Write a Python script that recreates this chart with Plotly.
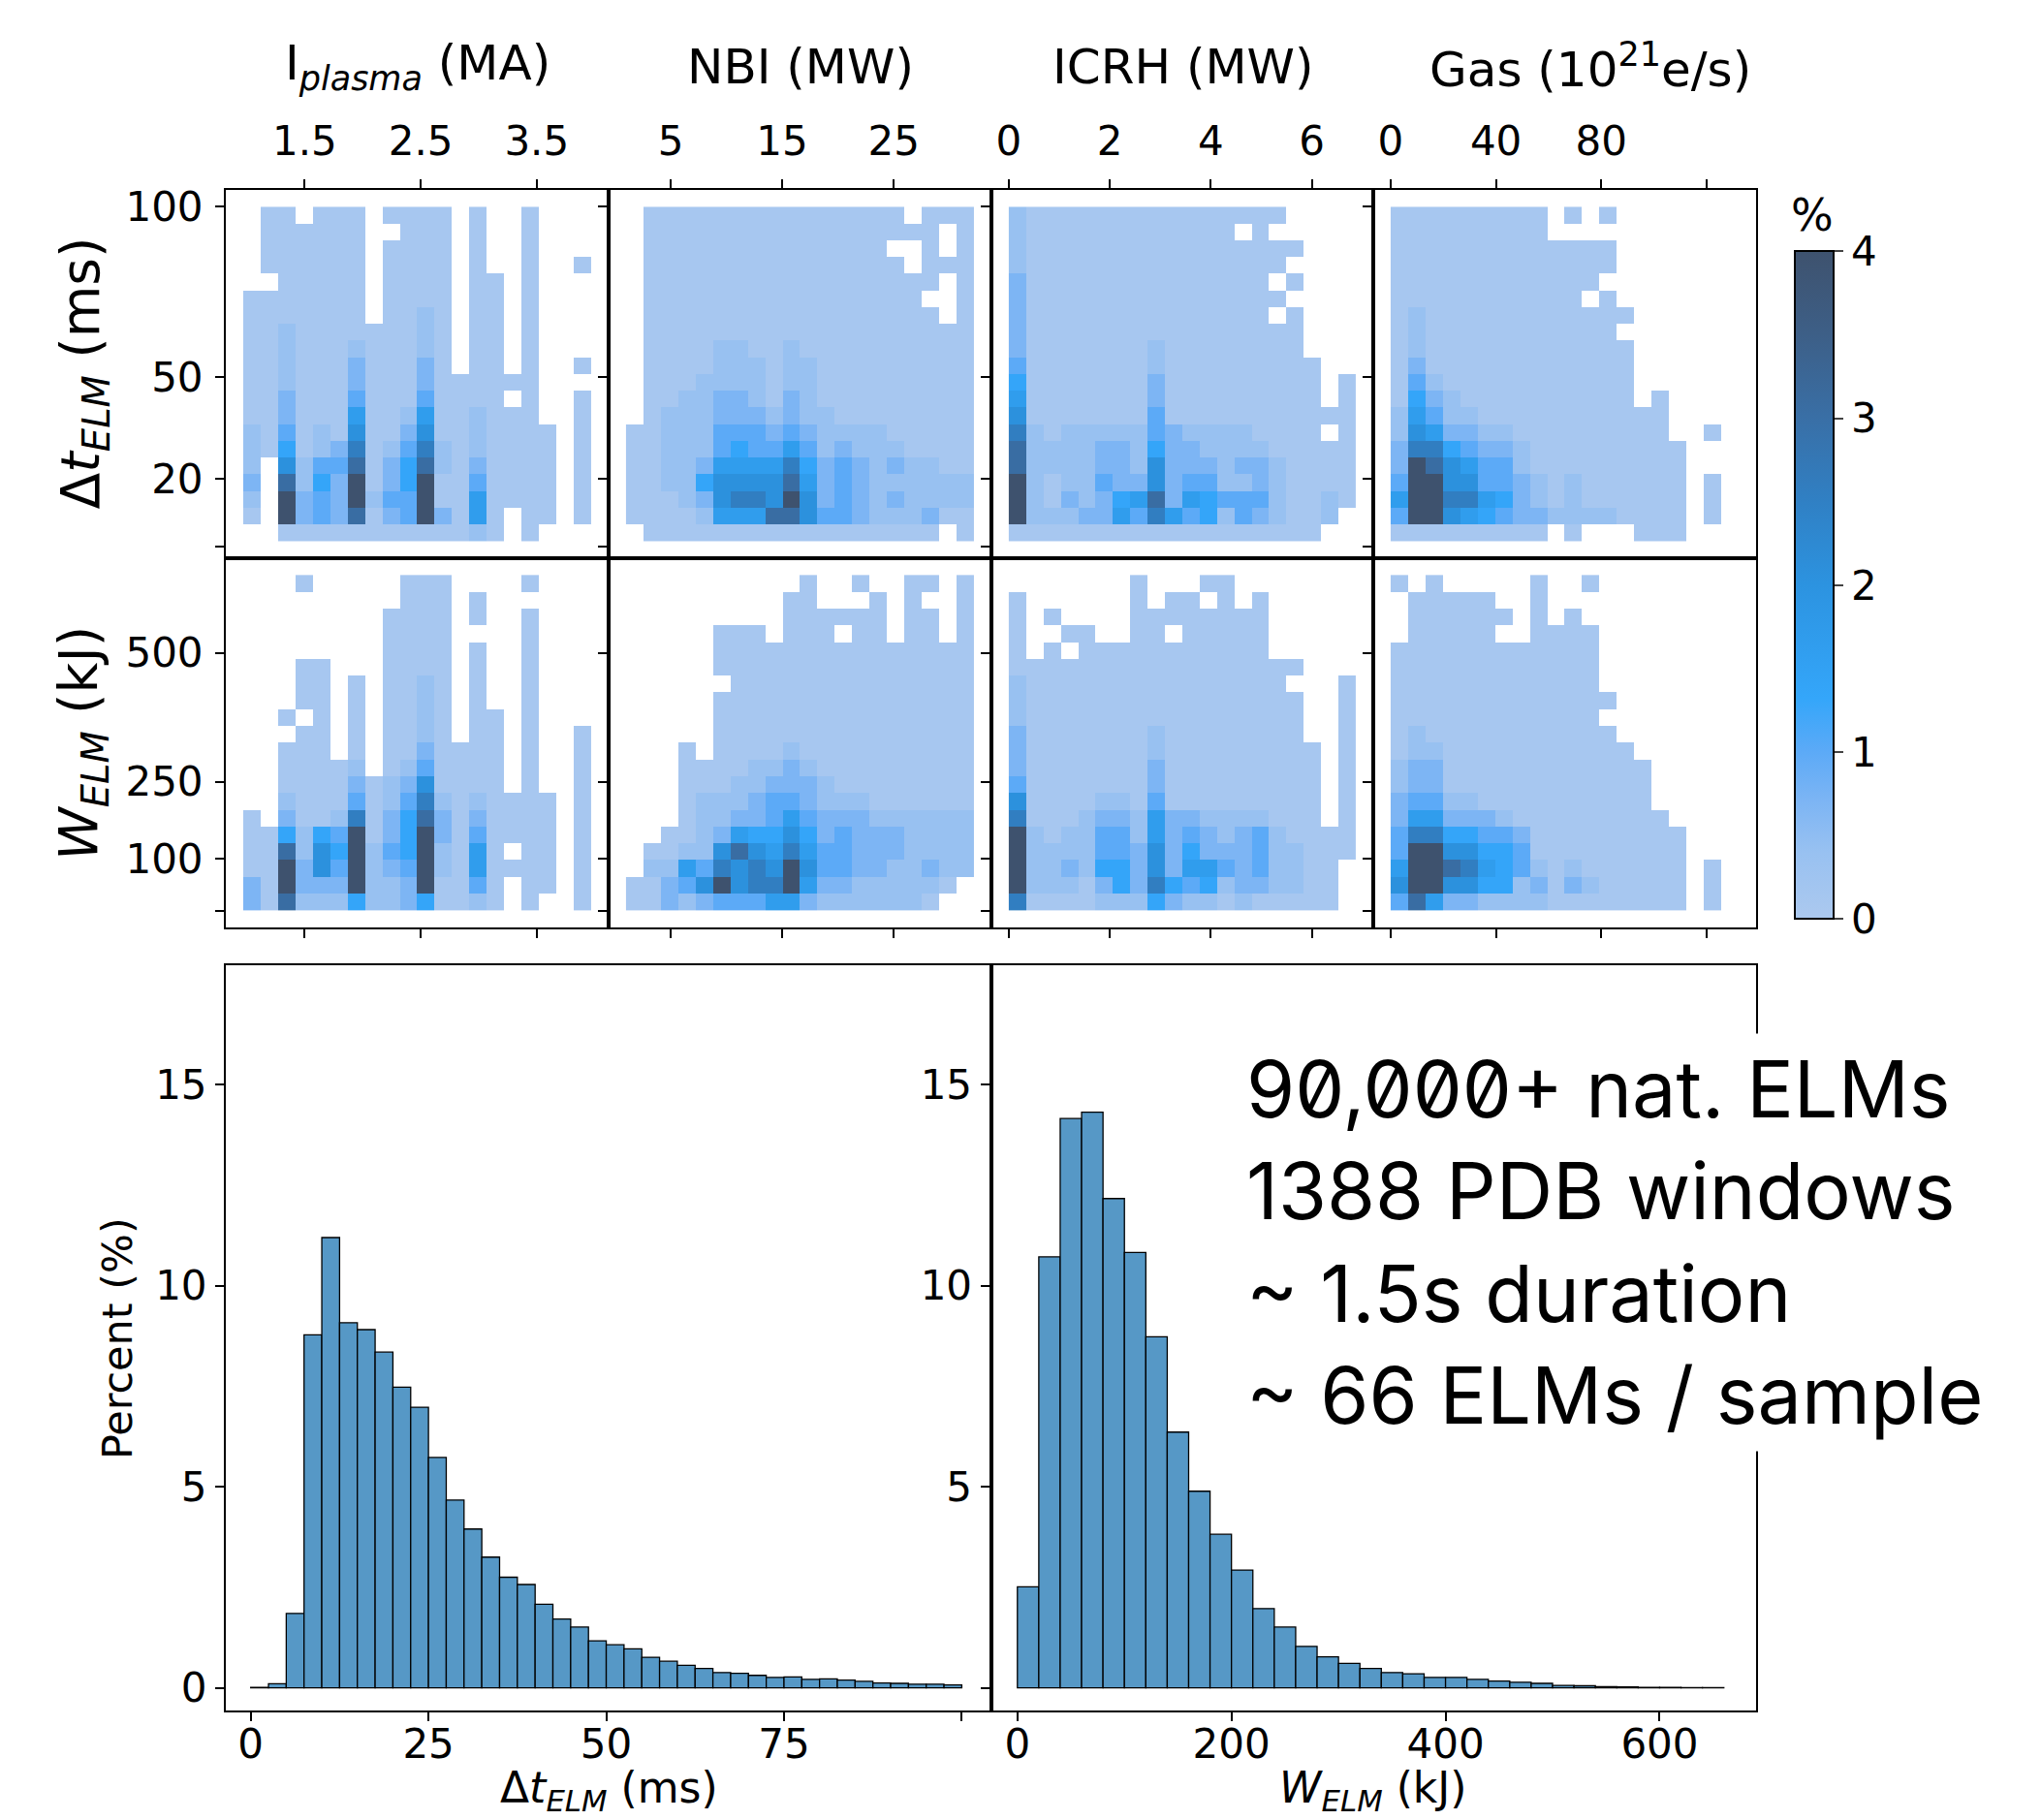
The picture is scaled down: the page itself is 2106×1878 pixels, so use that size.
import plotly.graph_objects as go

W_PX, H_PX = 2106, 1878
FONT = "DejaVu Sans"

# ---------------- data: bin ranges (data units) ----------------
IP_BINS = (0.97, 3.97)      # I_plasma (MA)
NBI_BINS = (1.0, 32.2)      # NBI (MW)
ICRH_BINS = (0.0, 6.87)     # ICRH (MW)
GAS_BINS = (0.0, 132.2)     # Gas (1e21 e/s)
DT_BINS = (1.6, 100.0)      # dt_ELM (ms)
WE_BINS = (0.0, 651.0)      # W_ELM (kJ)
N_BINS = 20

# cell level code -> percent value ('.' = empty)
LEVELS = {'0': 0.1, '1': 0.4, '2': 0.7, '3': 1.0, '4': 1.35,
          '5': 1.65, '6': 2.05, '7': 2.55, '8': 3.05, '9': 4.0}

# rows listed from top (largest y) to bottom
GRID_IP_DT = [
    ".00.000.0000.0..0...",
    ".000000..000.0..0...",
    ".000000.0000.0..0...",
    ".000000.0000.0..0..0",
    "..00000.0000.00.0...",
    "0000000.0000.00.0...",
    "0000000.0010.00.0...",
    "001000000010.00.0...",
    "001000100010.00.0...",
    "001000200020.00.0..0",
    "00100020002000000...",
    "002000300030000.0..0",
    "00200050015001000..0",
    "103010600260010000.0",
    "104012701371010000.0",
    "1.6133802481020000.0",
    "2.8142902490030000.0",
    "1.9232913390050000.0",
    "0.9232802392050.00.0",
    "..0000000000010.0...",
]
GRID_NBI_DT = [
    ".000000000000000.000",
    ".00000000000000000.0",
    ".00000000000000..0.0",
    ".000000000000000.000",
    ".00000000000000000.0",
    ".0000000000000000..0",
    ".00000000000000000.0",
    ".0000000000000000000",
    ".0000110010000000000",
    ".0000111011000000000",
    ".0001111011000000000",
    ".0011221021000000000",
    ".0111222121100000000",
    "00111333232111100000",
    "00111343353121110000",
    "00112555574232121100",
    "00114666685232111111",
    "00012677696232121111",
    "00001555886332111200",
    ".00000000000000000.0",
]
GRID_ICRH_DT = [
    "1000000000000000....",
    "1000000000000.0.....",
    "10000000000000000...",
    "1000000000000000....",
    "200000000000000.0...",
    "2000000000000000....",
    "200000000000000.0...",
    "20000000000000000...",
    "20000000100000000...",
    "300000001000000000..",
    "400000002000000000.0",
    "500000002000000000.0",
    "60000000300000000000",
    "710111113211110000.0",
    "81111221422111100000",
    "81111221622212210000",
    "91011322623311210000",
    "91021245825433310010",
    "9111225375341321001.",
    "000000000000000000..",
]
GRID_GAS_DT = [
    "000000000.0.0.......",
    "000000000...........",
    "0000000000000.......",
    "0000000000000.......",
    "000000000000........",
    "00000000000.0.......",
    "01000000000000......",
    "0100000000000.......",
    "01000000000000......",
    "02000000000000......",
    "03100000000000......",
    "04210000000000.0....",
    "1531100000000000....",
    "1652211000000000..0.",
    "27743221000000000...",
    "29865331000000000...",
    "39966332101000000.0.",
    "59977542101000000.0.",
    "39965432211110000.0.",
    "000000000.0...000...",
]
GRID_IP_W = [
    "...0.....000....0...",
    ".........000.0......",
    "........0000.0..0...",
    "........0000....0...",
    "........0000.0..0...",
    "...00...0000.0..0...",
    "...00.0.0010.0..0...",
    "...00.0.0010.0..0...",
    "..0.0.0.0010.00.0...",
    "...00.0.0010.00.0..0",
    "..000.0.0020000.0..0",
    "..00001.0130000.0..0",
    "..0000201260000.0..0",
    "..1000301371010000.0",
    "0.2001702482020000.0",
    "004143902492030000.0",
    "008164913491050.00.0",
    "009263912391050000.0",
    "209222911290030.00.0",
    "208111411240010.0..0",
]
GRID_NBI_W = [
    "..........0..0..00.0",
    ".........00...0.0..0",
    ".........000000.00.0",
    ".....000.000.00.00.0",
    ".....000000000000000",
    ".....000000000000000",
    "......00000000000000",
    ".....000000000000000",
    ".....000000000000000",
    ".....000000000000000",
    "...0.000010000000000",
    "...00001121000000000",
    "...00011222100000000",
    "...01112332111000000",
    "...01122353222111111",
    "..001254464232221111",
    ".0011686575332221111",
    ".1153767696332211211",
    "0023696779522111110.",
    "002123335521111110..",
]
GRID_ICRH_W = [
    ".......0...00.......",
    "0......0.00.0.0.....",
    "0.0....00000000.....",
    "0..00..00.00000.....",
    "0.0.00000000000.....",
    "00000000000000000...",
    "1000000000000000...0",
    "10000000000000000..0",
    "10000000000000000..0",
    "20000000100000000..0",
    "200000001000000000.0",
    "200000002000000000.0",
    "300000002000000000.0",
    "600001103000000000.0",
    "700012215221111000.0",
    "91011331523212310000",
    "91111332624222311000",
    "9112144262553231100.",
    "9111024274341221100.",
    "7000011142110100000.",
]
GRID_GAS_W = [
    "0.0.....0..0........",
    ".00000..0...........",
    ".000000.0.0.........",
    ".00000..0000........",
    "000000000000........",
    "000000000000........",
    "000000000000........",
    "0000000000000.......",
    "000000000000........",
    "0100000000000.......",
    "01100000000000......",
    "122000000000000.....",
    "122000000000000.....",
    "233110000000000.....",
    "2552221000000000....",
    "37744332000000000...",
    "39966443000000000...",
    "59987543101000000.0.",
    "69966441202100000.0.",
    "38522111100000000.0.",
]

# 1D histograms (percent per bin)
DT_HIST_EDGE0, DT_HIST_STEP = 0.0, 2.5
DT_HIST_PCT = [0.01, 0.1, 1.85, 8.78, 11.2, 9.08, 8.91, 8.35, 7.48, 6.98,
               5.73, 4.67, 3.95, 3.25, 2.75, 2.57, 2.08, 1.71, 1.51, 1.17,
               1.07, 0.97, 0.76, 0.66, 0.56, 0.48, 0.38, 0.36, 0.31, 0.26,
               0.27, 0.21, 0.22, 0.19, 0.16, 0.12, 0.11, 0.09, 0.09, 0.07]
W_HIST_EDGE0, W_HIST_STEP = 0.0, 20.0
W_HIST_PCT = [2.51, 10.72, 14.16, 14.32, 12.17, 10.83, 8.73, 6.36, 4.89, 3.82,
              2.93, 1.97, 1.51, 1.03, 0.77, 0.61, 0.48, 0.38, 0.35, 0.26,
              0.26, 0.21, 0.17, 0.14, 0.11, 0.06, 0.05, 0.03, 0.02, 0.01,
              0.01, 0.005, 0.005]

# tick labels
TOP_TITLES = ["I<sub><i>plasma</i></sub> (MA)", "NBI (MW)", "ICRH (MW)",
              "Gas (10<sup>21</sup>e/s)"]
X_TICKVALS = [[1.5, 2.5, 3.5], [5, 15, 25], [0, 2, 4, 6], [0, 40, 80, 120]]
X_TICKTEXT = [["1.5", "2.5", "3.5"], ["5", "15", "25"], ["0", "2", "4", "6"],
              ["0", "40", "80", ""]]
DT_TICKVALS, DT_TICKTEXT = [0, 20, 50, 100], ["", "20", "50", "100"]
WE_TICKVALS, WE_TICKTEXT = [0, 100, 250, 500], ["", "100", "250", "500"]
HDT_TICKVALS, HDT_TICKTEXT = [0, 25, 50, 75, 100], ["0", "25", "50", "75", ""]
HW_TICKVALS, HW_TICKTEXT = [0, 200, 400, 600], ["0", "200", "400", "600"]
HY_TICKVALS = [0, 5, 10, 15]
HY_TICKTEXT_L = ["0", "5", "10", "15"]
HY_TICKTEXT_R = ["", "5", "10", "15"]
CB_TICKVALS = [0, 1, 2, 3, 4]
INFO_LINES = ["90,000+ nat. ELMs", "1388 PDB windows", "~ 1.5s duration",
              "~ 66 ELMs / sample"]

# ---------------- layout geometry (pixels) ----------------
COL_EDGES_PX = [233, 628, 1023, 1417, 1812]
ROW_PX = [(190, 571.5), (571.5, 954)]
HIST_ROW_PX = (993, 1766)
HIST_COLS_PX = [(233, 1022.5), (1022.5, 1812)]
HDT_RANGE = [-3.5, 104.1]
HW_RANGE = [-24.7, 690.1]
HY_RANGE = [-0.576, 17.98]
CB_TOP_PX, CB_BOT_PX = 255, 944

CSCALE = [
    [0.0, 'rgb(172,201,239)'],
    [0.1, 'rgb(152,193,241)'],
    [0.175, 'rgb(125,181,244)'],
    [0.25, 'rgb(92,170,247)'],
    [0.33, 'rgb(52,166,250)'],
    [0.5, 'rgb(44,147,224)'],
    [0.625, 'rgb(48,128,196)'],
    [0.75, 'rgb(57,111,166)'],
    [0.875, 'rgb(61,95,135)'],
    [1.0, 'rgb(62,82,110)'],
]
BAR_COLOR = 'rgb(86,152,198)'


def px_x(x):
    return x / W_PX


def px_y(y):
    return 1 - y / H_PX


def centers(bins, n):
    lo, hi = bins
    step = (hi - lo) / n
    return [lo + step * (k + 0.5) for k in range(n)]


def padded(bins):
    lo, hi = bins
    d = hi - lo
    return [lo - 0.05 * d, hi + 0.05 * d]


def grid_to_z(grid):
    rows = [(row + '.' * N_BINS)[:N_BINS] for row in grid]
    return [[LEVELS.get(ch) for ch in row] for row in reversed(rows)]


def ax_ids(i):
    return ('x' if i == 1 else f'x{i}', 'y' if i == 1 else f'y{i}',
            'xaxis' if i == 1 else f'xaxis{i}', 'yaxis' if i == 1 else f'yaxis{i}')


AX = dict(showline=True, linecolor='black', linewidth=2, mirror=True,
          ticks='outside', ticklen=9, tickwidth=2, tickcolor='black',
          showgrid=False, zeroline=False,
          tickfont=dict(family=FONT, size=42, color='black'))

fig = go.Figure()
layout = {}

X_BINS = [IP_BINS, NBI_BINS, ICRH_BINS, GAS_BINS]
ROWS = [
    (DT_BINS, [GRID_IP_DT, GRID_NBI_DT, GRID_ICRH_DT, GRID_GAS_DT], DT_TICKVALS, DT_TICKTEXT),
    (WE_BINS, [GRID_IP_W, GRID_NBI_W, GRID_ICRH_W, GRID_GAS_W], WE_TICKVALS, WE_TICKTEXT),
]

for r, (ybins, grids, ytv, ytt) in enumerate(ROWS):
    for c in range(4):
        i = r * 4 + c + 1
        xid, yid, xkey, ykey = ax_ids(i)
        fig.add_trace(go.Heatmap(
            x=centers(X_BINS[c], N_BINS), y=centers(ybins, N_BINS),
            z=grid_to_z(grids[c]), zmin=0, zmax=4, colorscale=CSCALE,
            showscale=(i == 1), hoverinfo='skip', xaxis=xid, yaxis=yid,
            colorbar=dict(x=px_x(1852), xanchor='left', xpad=0,
                          y=px_y((CB_TOP_PX + CB_BOT_PX) / 2), yanchor='middle', ypad=0,
                          len=CB_BOT_PX - CB_TOP_PX, lenmode='pixels', thickness=40,
                          thicknessmode='pixels', outlinewidth=2,
                          outlinecolor='black', tickvals=CB_TICKVALS,
                          ticks='outside', ticklen=9, tickwidth=2,
                          tickfont=dict(family=FONT, size=42, color='black'))))
        layout[xkey] = dict(AX, domain=[px_x(COL_EDGES_PX[c]), px_x(COL_EDGES_PX[c + 1])],
                            range=padded(X_BINS[c]), tickvals=X_TICKVALS[c],
                            ticktext=X_TICKTEXT[c], side='top' if r == 0 else 'bottom',
                            showticklabels=(r == 0), anchor=yid,
                            ticklabelstandoff=8 if r == 0 else 0)
        layout[ykey] = dict(AX, domain=[px_y(ROW_PX[r][1]), px_y(ROW_PX[r][0])],
                            range=padded(ybins), tickvals=ytv, ticktext=ytt,
                            showticklabels=(c == 0), anchor=xid, ticklabelstandoff=4)

HISTS = [
    (DT_HIST_EDGE0, DT_HIST_STEP, DT_HIST_PCT, HDT_RANGE, HDT_TICKVALS, HDT_TICKTEXT, HY_TICKTEXT_L),
    (W_HIST_EDGE0, W_HIST_STEP, W_HIST_PCT, HW_RANGE, HW_TICKVALS, HW_TICKTEXT, HY_TICKTEXT_R),
]
for k, (e0, step, vals, xr, xtv, xtt, ytt) in enumerate(HISTS):
    i = 9 + k
    xid, yid, xkey, ykey = ax_ids(i)
    fig.add_trace(go.Bar(
        x=[e0 + step * (j + 0.5) for j in range(len(vals))], y=vals, width=step,
        marker=dict(color=BAR_COLOR, line=dict(color='black', width=1.3)),
        hoverinfo='skip', xaxis=xid, yaxis=yid))
    layout[xkey] = dict(AX, domain=[px_x(HIST_COLS_PX[k][0]), px_x(HIST_COLS_PX[k][1])],
                        range=xr, tickvals=xtv, ticktext=xtt, anchor=yid,
                        ticklabelstandoff=-13)
    layout[ykey] = dict(AX, domain=[px_y(HIST_ROW_PX[1]), px_y(HIST_ROW_PX[0])],
                        range=HY_RANGE, tickvals=HY_TICKVALS, ticktext=ytt, anchor=xid)

annotations = []


def label(text, x, y, size, angle=0, family=FONT):
    annotations.append(dict(text=text, x=px_x(x), y=px_y(y), xref='paper', yref='paper',
                            showarrow=False, xanchor='center', yanchor='middle',
                            textangle=angle, font=dict(family=family, size=size, color='black')))


for c in range(4):
    cx = (COL_EDGES_PX[c] + COL_EDGES_PX[c + 1]) / 2
    label(TOP_TITLES[c], cx + (26 if c == 3 else 0), 62, 50)

label("Δ<i>t</i><sub><i>ELM</i></sub> (ms)", 87, 380, 55, -90)
label("<i>W</i><sub><i>ELM</i></sub> (kJ)", 85, 763, 55, -90)
label("Percent (%)", 121, 1380, 43, -90)
label("Δ<i>t</i><sub><i>ELM</i></sub> (ms)", 628, 1848, 44)
label("<i>W</i><sub><i>ELM</i></sub> (kJ)", 1417, 1848, 44)
label("%", 1870, 216, 46)

annotations.append(dict(
    text="<br>".join(INFO_LINES), x=px_x(1277), y=px_y(1064), xref='paper', yref='paper',
    showarrow=False, xanchor='left', yanchor='top', align='left',
    bgcolor='white', borderpad=8,
    font=dict(family='Inter', size=81, color='black')))

fig.update_layout(
    width=W_PX, height=H_PX, margin=dict(l=0, r=0, t=0, b=0),
    paper_bgcolor='white', plot_bgcolor='white', showlegend=False,
    font=dict(family=FONT, color='black'), annotations=annotations, **layout)

POST = ("document.body.style.margin='0';"
        "document.querySelectorAll('.annotation-text').forEach(function(e){"
        "e.style.fontFeatureSettings='\"zero\" 1';});")
fig.write_html("out.html", post_script=POST, config={'displayModeBar': False})
